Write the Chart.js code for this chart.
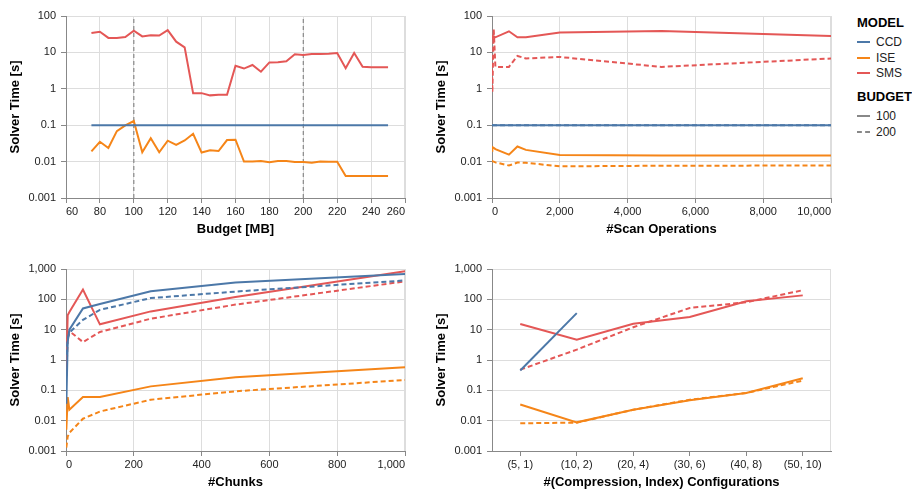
<!DOCTYPE html>
<html>
<head>
<meta charset="utf-8">
<script src="https://cdn.jsdelivr.net/npm/chart.js@4/dist/chart.umd.min.js"></script>
<style>
    html, body { margin: 0; padding: 0; background: #fff; overflow: hidden; }
    body { position: relative; width: 912px; height: 491px; font-family: "Liberation Sans", Arial, Helvetica, sans-serif; }
    .panel { position: absolute; width: 420px; height: 240px; }
    #legend { position: absolute; left: 857px; top: 0; width: 60px; height: 150px; color: #222; }
    #legend .head { position: absolute; left: 0; font-size: 13px; font-weight: bold; line-height: 15px; color: #000; white-space: nowrap; }
    #legend .row { position: absolute; left: 0; font-size: 12px; line-height: 14px; height: 14px; white-space: nowrap; }
    #legend .sym { position: absolute; left: 0; top: 6px; width: 13px; height: 0; }
    #legend .txt { position: absolute; left: 19px; top: 0; }
</style>
</head>
<body>
<canvas id="budgetChart" class="panel" width="420" height="240" style="left:0;top:0"></canvas>
<canvas id="scanChart" class="panel" width="420" height="240" style="left:426px;top:0"></canvas>
<canvas id="chunkChart" class="panel" width="420" height="240" style="left:0;top:253px"></canvas>
<canvas id="configChart" class="panel" width="420" height="240" style="left:426px;top:253px"></canvas>
<div id="legend"></div>

<script>
// ---- data ----

const modelNames = ['CCD', 'ISE', 'SMS'];
const budgetNames = ['100', '200'];

const yTicksTop = [0.001, 0.01, 0.1, 1, 10, 100];
const yTicksBottom = [0.001, 0.01, 0.1, 1, 10, 100, 1000];

// solver time over the memory budget
const budgetMB = [75, 80, 85, 90, 95, 100, 105, 110, 115, 120, 125, 130, 135, 140, 145, 150, 155, 160,
    165, 170, 175, 180, 185, 190, 195, 200, 205, 210, 215, 220, 225, 230, 235, 240, 245, 250];
const budgetTicks = [60, 80, 100, 120, 140, 160, 180, 200, 220, 240, 260];
const budgetRules = [100, 200];
const budgetCCD = [0.1, 0.1, 0.1, 0.1, 0.1, 0.1, 0.1, 0.1, 0.1, 0.1, 0.1, 0.1, 0.1, 0.1, 0.1, 0.1, 0.1, 0.1,
    0.1, 0.1, 0.1, 0.1, 0.1, 0.1, 0.1, 0.1, 0.1, 0.1, 0.1, 0.1, 0.1, 0.1, 0.1, 0.1, 0.1, 0.1];
const budgetISE = [0.019, 0.035, 0.0237, 0.069, 0.099, 0.13, 0.018, 0.044, 0.018, 0.0376, 0.0286, 0.038,
    0.058, 0.0177, 0.0204, 0.0195, 0.039, 0.04, 0.01, 0.01, 0.0104, 0.0096, 0.0104, 0.0104, 0.0097, 0.0097,
    0.0093, 0.0101, 0.0099, 0.0099, 0.004, 0.004, 0.004, 0.004, 0.004, 0.004];
const budgetSMS = [34, 37, 25, 25, 26.5, 39.5, 27.5, 29.5, 29, 41, 19.7, 13.8, 0.75, 0.76, 0.66, 0.69, 0.69, 4.3,
    3.6, 4.5, 2.95, 5.3, 5.4, 5.7, 8.9, 8.5, 9, 9, 9.2, 9.6, 3.7, 9.6, 4.05, 3.9, 3.9, 3.9];

// solver time over the number of scan operations
const scanOps = [0, 10, 50, 100, 500, 750, 1000, 2000, 5000, 10000];
const scanTicks = [0, 2000, 4000, 6000, 8000, 10000];
const scanCCD100 = [0.1, 0.1, 0.1, 0.1, 0.1, 0.1, 0.1, 0.1, 0.1, 0.1];
const scanCCD200 = [0.1, 0.1, 0.1, 0.1, 0.1, 0.1, 0.1, 0.1, 0.1, 0.1];
const scanISE100 = [0.02, 0.025, 0.024, 0.022, 0.0155, 0.026, 0.021, 0.0152, 0.0148, 0.0146];
const scanISE200 = [0.0105, 0.0102, 0.01, 0.0095, 0.0078, 0.0094, 0.0093, 0.0074, 0.0077, 0.0078];
const scanSMS100 = [24, 28, 27, 26, 38, 26, 26, 35, 39, 28];
const scanSMS200 = [3.5, 0.8, 45, 4, 4, 8, 6.8, 7.5, 4, 6.8];

// solver time over the number of chunks
const chunkCounts = [1, 5, 10, 50, 100, 250, 500, 1000];
const chunkTicks = [0, 200, 400, 600, 800, 1000];
const chunkCCD100 = [0.036, 4, 10, 50, 70, 185, 360, 680];
const chunkCCD200 = [1.5, 5, 8, 21, 45, 110, 180, 420];
const chunkISE100 = [0.005, 0.06, 0.023, 0.06, 0.06, 0.135, 0.27, 0.58];
const chunkISE200 = [0.0013, 0.003, 0.004, 0.0116, 0.02, 0.049, 0.093, 0.22];
const chunkSMS100 = [0.5, 30, 38, 210, 15, 40, 120, 850];
const chunkSMS200 = [0.3, 5, 9, 3.9, 8.4, 23, 67, 390];

// solver time over the (compression, index) configurations
const configLabels = ['(5, 1)', '(10, 2)', '(20, 4)', '(30, 6)', '(40, 8)', '(50, 10)'];
const configCCD100 = [0.45, 35, null, null, null, null];
const configISE100 = [0.034, 0.0088, 0.023, 0.047, 0.082, 0.25];
const configISE200 = [0.0082, 0.0086, 0.023, 0.049, 0.082, 0.21];
const configSMS100 = [15.4, 4.7, 15.7, 26, 86, 135];
const configSMS200 = [0.48, 2.2, 12, 52, 80, 200];

// ---- styling ----

const BLUE = '#4c78a8';
const ORANGE = '#f58518';
const RED = '#e45756';
const GREY = '#888';
const modelColors = [BLUE, ORANGE, RED];
const DASH = [5, 3];

Chart.defaults.font.family = '"Liberation Sans", Arial, Helvetica, sans-serif';

const fmt = v => Number(v).toLocaleString('en-US', { maximumFractionDigits: 3 });

// light frame on the top and right of the plot area
const frame = {
    id: 'frame',
    beforeDraw(chart) {
        const { ctx, chartArea: a } = chart;
        ctx.save();
        ctx.strokeStyle = '#ddd';
        ctx.lineWidth = 1;
        ctx.beginPath();
        ctx.moveTo(a.left, a.top + 0.5);
        ctx.lineTo(a.right - 0.5, a.top + 0.5);
        ctx.lineTo(a.right - 0.5, a.bottom);
        ctx.stroke();
        ctx.restore();
    }
};

const solverAxis = (ticks) => ({
    type: 'logarithmic',
    min: ticks[0],
    max: ticks[ticks.length - 1],
    afterBuildTicks: s => { s.ticks = ticks.map(v => ({ value: v })); },
    afterFit: s => { s.width = 66; },
    ticks: { color: '#222', font: { size: 11 }, padding: 5, autoSkip: false, callback: v => fmt(v) },
    grid: { color: '#ddd', tickColor: GREY, tickLength: 5 },
    border: { color: GREY },
    title: {
        display: true, text: 'Solver Time [s]', color: '#000',
        font: { size: 13, weight: 'bold' }, padding: { top: 8, bottom: 0 }
    }
});

const bottomTitle = (text) => ({
    display: true, text: text, color: '#000',
    font: { size: 13, weight: 'bold' }, padding: { top: 0, bottom: 3 }
});

const countAxis = (title, ticks) => ({
    type: 'linear',
    min: ticks[0],
    max: ticks[ticks.length - 1],
    afterBuildTicks: s => { s.ticks = ticks.map(v => ({ value: v })); },
    afterFit: s => { s.height = 42; },
    ticks: { color: '#222', font: { size: 11 }, padding: 2, align: 'inner', maxRotation: 0, autoSkip: false, callback: v => fmt(v) },
    grid: { color: '#ddd', tickColor: GREY, tickLength: 5 },
    border: { color: GREY },
    title: bottomTitle(title)
});

const xyLine = (xs, ys, color, dashed) => ({
    data: xs.map((x, i) => ({ x: x, y: ys[i] })),
    borderColor: color,
    borderWidth: 2,
    borderDash: dashed ? DASH : [],
    pointRadius: 0,
    tension: 0,
    fill: false
});

const baseOptions = (scales) => ({
    responsive: false,
    animation: false,
    events: [],
    layout: { padding: { top: 16, right: 15, left: 0, bottom: 0 } },
    plugins: { legend: { display: false }, tooltip: { enabled: false } },
    scales: scales
});

// ---- Budget [MB] ----

const budgetSets = [
    xyLine(budgetMB, budgetCCD, BLUE, false),
    xyLine(budgetMB, budgetISE, ORANGE, false),
    xyLine(budgetMB, budgetSMS, RED, false)
];
budgetRules.forEach(b => {
    budgetSets.push({
        data: [{ x: b, y: yTicksTop[0] }, { x: b, y: yTicksTop[yTicksTop.length - 1] }],
        borderColor: GREY, borderWidth: 1.2, borderDash: [4, 3], pointRadius: 0, fill: false
    });
});

new Chart(document.getElementById('budgetChart'), {
    type: 'line',
    data: { datasets: budgetSets },
    options: baseOptions({ x: countAxis('Budget [MB]', budgetTicks), y: solverAxis(yTicksTop) }),
    plugins: [frame]
});

// ---- #Scan Operations ----

new Chart(document.getElementById('scanChart'), {
    type: 'line',
    data: {
        datasets: [
            xyLine(scanOps, scanCCD200, BLUE, true),
            xyLine(scanOps, scanCCD100, BLUE, false),
            xyLine(scanOps, scanISE100, ORANGE, false),
            xyLine(scanOps, scanISE200, ORANGE, true),
            xyLine(scanOps, scanSMS100, RED, false),
            xyLine(scanOps, scanSMS200, RED, true)
        ]
    },
    options: baseOptions({ x: countAxis('#Scan Operations', scanTicks), y: solverAxis(yTicksTop) }),
    plugins: [frame]
});

// ---- #Chunks ----

new Chart(document.getElementById('chunkChart'), {
    type: 'line',
    data: {
        datasets: [
            xyLine(chunkCounts, chunkCCD100, BLUE, false),
            xyLine(chunkCounts, chunkCCD200, BLUE, true),
            xyLine(chunkCounts, chunkISE100, ORANGE, false),
            xyLine(chunkCounts, chunkISE200, ORANGE, true),
            xyLine(chunkCounts, chunkSMS100, RED, false),
            xyLine(chunkCounts, chunkSMS200, RED, true)
        ]
    },
    options: baseOptions({ x: countAxis('#Chunks', chunkTicks), y: solverAxis(yTicksBottom) }),
    plugins: [frame]
});

// ---- #(Compression, Index) Configurations ----

const catLine = (ys, color, dashed) => ({
    data: ys,
    borderColor: color,
    borderWidth: 2,
    borderDash: dashed ? DASH : [],
    pointRadius: 0,
    tension: 0,
    spanGaps: false,
    fill: false
});

new Chart(document.getElementById('configChart'), {
    type: 'line',
    data: {
        labels: configLabels,
        datasets: [
            catLine(configCCD100, BLUE, false),
            catLine(configISE100, ORANGE, false),
            catLine(configISE200, ORANGE, true),
            catLine(configSMS100, RED, false),
            catLine(configSMS200, RED, true)
        ]
    },
    options: baseOptions({
        x: {
            type: 'category',
            offset: true,
            afterFit: s => { s.height = 42; },
            ticks: { color: '#222', font: { size: 11 }, padding: 2, maxRotation: 0, autoSkip: false },
            grid: { display: true, drawOnChartArea: false, offset: false, tickColor: GREY, tickLength: 5 },
            border: { color: GREY },
            title: bottomTitle('#(Compression, Index) Configurations')
        },
        y: solverAxis(yTicksBottom)
    }),
    plugins: [frame]
});

// ---- legend ----

const legend = document.getElementById('legend');

const addHead = (text, top) => {
    const d = document.createElement('div');
    d.className = 'head';
    d.style.top = top + 'px';
    d.textContent = text;
    legend.appendChild(d);
};

const addRow = (text, top, color, dashed) => {
    const row = document.createElement('div');
    row.className = 'row';
    row.style.top = top + 'px';
    const sym = document.createElement('span');
    sym.className = 'sym';
    sym.style.borderTop = '2px ' + (dashed ? 'dashed ' : 'solid ') + color;
    const txt = document.createElement('span');
    txt.className = 'txt';
    txt.textContent = text;
    row.appendChild(sym);
    row.appendChild(txt);
    legend.appendChild(row);
};

addHead('MODEL', 15);
modelNames.forEach((m, i) => addRow(m, 35 + i * 15.6, modelColors[i], false));
addHead('BUDGET', 88.5);
budgetNames.forEach((b, i) => addRow(b, 109 + i * 15.6, GREY, i === 1));
</script>
</body>
</html>
